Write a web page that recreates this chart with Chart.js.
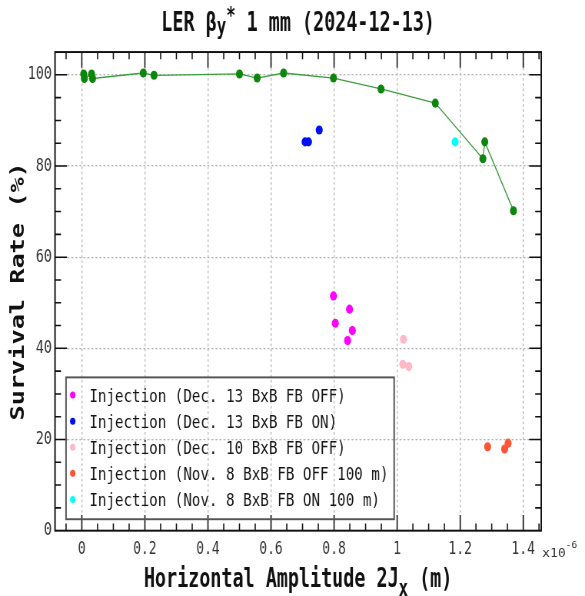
<!DOCTYPE html>
<html>
<head>
<meta charset="utf-8">
<script src="https://cdn.jsdelivr.net/npm/chart.js@4/dist/chart.umd.min.js"></script>
<style>
  html, body { margin: 0; padding: 0; background: #fff; }
  #wrap { width: 585px; height: 596px; }
  /* the plot is laid out on a shorter canvas and stretched to full height */
  #chart { display: block; transform: scaleY(1.30131); transform-origin: 0 0; }
</style>
</head>
<body>
<div id="wrap"><canvas id="chart" width="585" height="458"></canvas></div>
<script>
// axis ticks (amplitude in units of 1e-6 m)
const ampTicks = [0, 0.2, 0.4, 0.6, 0.8, 1.0, 1.2, 1.4];
const ampTickLabels = ["0", "0.2", "0.4", "0.6", "0.8", "1", "1.2", "1.4"];
const rateTicks = [0, 20, 40, 60, 80, 100];
const rateTickLabels = ["0", "20", "40", "60", "80", "100"];

// amplitude scan, connected line
const scanAmp = [0.006, 0.008, 0.031, 0.034, 0.195, 0.229, 0.500, 0.556, 0.640, 0.798, 0.949, 1.121, 1.272, 1.278, 1.369];
const scanRate = [100.2, 99.2, 100.2, 99.2, 100.4, 99.9, 100.2, 99.3, 100.4, 99.3, 96.9, 93.8, 81.6, 85.3, 70.2];

// injection measurements
const dec13OffAmp = [0.798, 0.849, 0.804, 0.858, 0.843];
const dec13OffRate = [51.5, 48.6, 45.5, 43.9, 41.7];
const dec13OnAmp = [0.708, 0.719, 0.753];
const dec13OnRate = [85.3, 85.3, 87.9];
const dec10OffAmp = [1.020, 1.018, 1.037];
const dec10OffRate = [42.0, 36.5, 36.0];
const nov8OffAmp = [1.287, 1.341, 1.352];
const nov8OffRate = [18.4, 17.9, 19.2];
const nov8OnAmp = [1.184];
const nov8OnRate = [85.3];

const X_MIN = -0.085, X_MAX = 1.457;
const Y_MIN = 0, Y_MAX = 105;

const STRETCH = 596 / 458;
const MONO = '"DejaVu Sans Mono", monospace';

const pts = (xs, ys) => xs.map((x, i) => ({ x: x, y: ys[i] }));

function injection(label, xs, ys, color) {
    return {
        label: label,
        data: pts(xs, ys),
        showLine: false,
        pointRadius: 3.5,
        pointBorderWidth: 0,
        pointBackgroundColor: color,
        pointBorderColor: color,
        backgroundColor: color
    };
}

const datasets = [
    injection("Injection (Dec. 13 BxB FB OFF)", dec13OffAmp, dec13OffRate, "#ff00ff"),
    injection("Injection (Dec. 13 BxB FB ON)", dec13OnAmp, dec13OnRate, "#0010f0"),
    injection("Injection (Dec. 10 BxB FB OFF)", dec10OffAmp, dec10OffRate, "#ffb8c6"),
    injection("Injection (Nov. 8 BxB FB OFF 100 m)", nov8OffAmp, nov8OffRate, "#ff5436"),
    injection("Injection (Nov. 8 BxB FB ON 100 m)", nov8OnAmp, nov8OnRate, "#00ffff"),
    {
        label: "scan",
        data: pts(scanAmp, scanRate),
        showLine: true,
        borderColor: "#3c9e3c",
        borderWidth: 1,
        pointRadius: 3.5,
        pointBorderWidth: 0,
        pointBackgroundColor: "#0c860c",
        pointBorderColor: "#0c860c",
        hideInLegend: true
    }
];

// text with sub/superscript pieces: [text, size factor, vertical shift in em]
function drawPieces(ctx, pieces, x, y, size, weight, squash) {
    const fontFor = p => `${weight} ${size * p[1]}px ${MONO}`;
    let total = 0;
    pieces.forEach(p => { ctx.font = fontFor(p); total += ctx.measureText(p[0]).width; });
    ctx.save();
    ctx.translate(x, y);
    ctx.scale(1, squash);
    ctx.textAlign = "left";
    ctx.textBaseline = "alphabetic";
    let cx = -total / 2;
    pieces.forEach(p => {
        ctx.font = fontFor(p);
        ctx.fillText(p[0], cx, p[2] * size);
        cx += ctx.measureText(p[0]).width;
    });
    ctx.restore();
}

const framePlugin = {
    id: "frame",
    afterDraw(chart) {
        const ctx = chart.ctx;
        const a = chart.chartArea;
        const xs = chart.scales.x, ys = chart.scales.y;
        ctx.save();

        // box round the plot
        ctx.strokeStyle = "#111";
        ctx.lineWidth = 1.5;
        ctx.strokeRect(a.left, a.top, a.right - a.left, a.bottom - a.top);

        // inward ticks on all four sides
        ctx.lineWidth = 1.2;
        ctx.beginPath();
        const xStep = 0.05;
        for (let k = Math.ceil(xs.min / xStep + 1e-6); k <= Math.floor(xs.max / xStep - 1e-6); k++) {
            const px = xs.getPixelForValue(k * xStep);
            const len = k % 4 === 0 ? 12 : 5.5;
            ctx.moveTo(px, a.bottom); ctx.lineTo(px, a.bottom - len);
            ctx.moveTo(px, a.top); ctx.lineTo(px, a.top + len);
        }
        const yStep = 5;
        for (let k = Math.ceil(ys.min / yStep + 1e-6); k <= Math.floor(ys.max / yStep - 1e-6); k++) {
            const py = ys.getPixelForValue(k * yStep);
            const len = k % 4 === 0 ? 12 : 6;
            ctx.moveTo(a.left, py); ctx.lineTo(a.left + len, py);
            ctx.moveTo(a.right, py); ctx.lineTo(a.right - len, py);
        }
        ctx.stroke();

        // legend
        const lg = { left: 66, top: 290, width: 328, height: 109, row0: 303.6, dy: 20.05 };
        ctx.strokeStyle = "#555";
        ctx.lineWidth = 1.5;
        ctx.strokeRect(lg.left, lg.top, lg.width, lg.height);
        ctx.font = `14.2px ${MONO}`;
        ctx.textAlign = "left";
        ctx.textBaseline = "alphabetic";
        chart.data.datasets.filter(d => !d.hideInLegend).forEach((d, i) => {
            const cy = lg.row0 + i * lg.dy;
            ctx.fillStyle = d.pointBackgroundColor;
            ctx.beginPath();
            ctx.arc(72.7, cy, 2.7, 0, Math.PI * 2);
            ctx.fill();
            ctx.fillStyle = "#151515";
            ctx.fillText(d.label, 89.3, cy + 5.2);
        });

        // titles
        ctx.fillStyle = "#111";
        const midX = (a.left + a.right) / 2;
        drawPieces(ctx, [["LER \u03b2", 1, 0], ["y", 0.85, 0.12], ["*", 0.85, -0.3], [" 1 mm (2024-12-13)", 1, 0]],
            midX, 23.8, 18.4, "bold", 1.14);
        drawPieces(ctx, [["Horizontal Amplitude 2J", 1, 0], ["x", 0.85, 0.34], [" (m)", 1, 0]],
            midX, 450.8, 18.4, "bold", 1.14);

        ctx.save();
        ctx.translate(24, (a.top + a.bottom) / 2);
        ctx.rotate(-Math.PI / 2);
        ctx.font = `bold 19.4px ${MONO}`;
        ctx.textAlign = "center";
        ctx.textBaseline = "alphabetic";
        ctx.fillText("Survival Rate (%)", 0, 0);
        ctx.restore();

        // exponent of the amplitude axis
        ctx.fillStyle = "#333";
        drawPieces(ctx, [["x10", 1, 0], ["-6", 0.74, -0.74]], 559.5, 428.3, 13, "normal", 0.73);

        ctx.restore();
    }
};

const chart = new Chart(document.getElementById("chart"), {
    type: "scatter",
    data: { datasets: datasets },
    options: {
        responsive: false,
        devicePixelRatio: STRETCH,
        animation: false,
        layout: { padding: { top: 40, right: 44, left: 0, bottom: 0 } },
        plugins: {
            legend: { display: false },
            title: { display: false },
            tooltip: { enabled: false }
        },
        scales: {
            x: {
                type: "linear",
                min: X_MIN,
                max: X_MAX,
                afterFit: s => { s.height = 50.2; },
                afterBuildTicks: s => { s.ticks = ampTicks.map(v => ({ value: v })); },
                ticks: {
                    callback: (v, i) => ampTickLabels[i],
                    color: "#333",
                    font: { family: MONO, size: 13 },
                    padding: 7,
                    maxRotation: 0,
                    autoSkip: false
                },
                grid: { color: "#b4b4b4", lineWidth: 1, drawTicks: false },
                border: { display: false, dash: [2, 2] }
            },
            y: {
                type: "linear",
                min: Y_MIN,
                max: Y_MAX,
                afterFit: s => { s.width = 55; },
                afterBuildTicks: s => { s.ticks = rateTicks.map(v => ({ value: v })); },
                ticks: {
                    callback: (v, i) => rateTickLabels[i],
                    color: "#333",
                    font: { family: MONO, size: 13.5 },
                    padding: 3,
                    autoSkip: false
                },
                grid: { color: "#b4b4b4", lineWidth: 1, drawTicks: false },
                border: { display: false, dash: [2, 2] }
            }
        }
    },
    plugins: [framePlugin]
});
</script>
</body>
</html>
